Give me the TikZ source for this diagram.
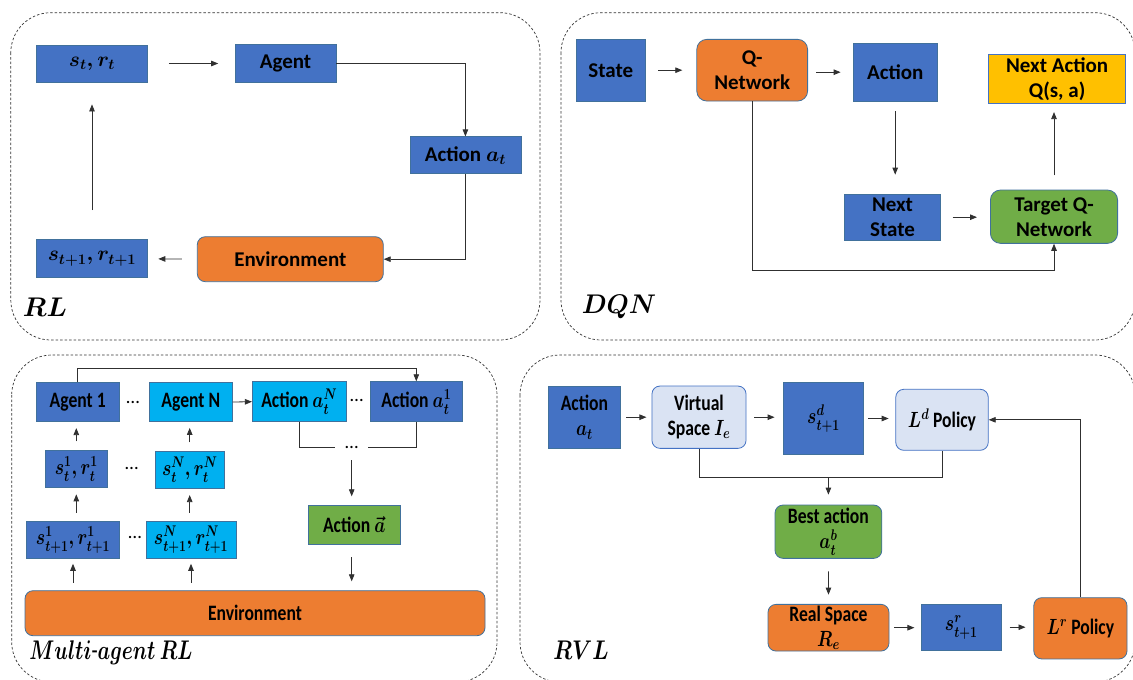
\documentclass[tikz,border=0pt]{standalone}
\usepackage{fix-cm}
\usepackage[no-math]{fontspec}
\setmainfont{Carlito}
\newfontfamily\cfont[FakeStretch=0.8]{Carlito}
\usepackage{graphicx}
\usetikzlibrary{arrows.meta,calc}
\definecolor{dblue}{HTML}{4472C4}
\definecolor{lblue}{HTML}{00B0F0}
\definecolor{orng}{HTML}{ED7D31}
\definecolor{grn}{HTML}{70AD47}
\definecolor{ylw}{HTML}{FFC000}
\definecolor{light}{HTML}{DAE3F3}
\definecolor{bord}{HTML}{41719C}
\definecolor{linec}{HTML}{303030}
\newcommand{\cz}[1]{\scalebox{0.8}[1]{#1}}
\newcommand{\bmath}[1]{{\boldmath$#1$}}
\tikzset{
  base/.style={draw=bord, line width=0.8pt, inner sep=0pt, align=center, text=black},
  topf/.style={font=\bfseries\fontsize{21}{25}\selectfont},
  botf/.style={font=\cfont\bfseries\fontsize{22}{25}\selectfont},
  db/.style={base, fill=dblue},
  lb/.style={base, fill=lblue},
  og/.style={base, fill=orng, rounded corners=8pt},
  gr/.style={base, fill=grn},
  grr/.style={gr, rounded corners=8pt},
  yl/.style={base, fill=ylw, draw=dblue},
  lt/.style={base, fill=light, draw=dblue, rounded corners=8pt},
  conn/.style={draw=linec, line width=0.8pt},
  arr/.style={conn, -{Triangle[length=7pt,width=5.5pt]}},
  panel/.style={draw=black!80, dash pattern=on 2.5pt off 2pt, line width=0.7pt, rounded corners=40pt},
  lab/.style={inner sep=0pt, font=\fontsize{27}{30}\selectfont},
  dots/.style={inner sep=0pt, font=\fontsize{19}{22}\selectfont},
  sz/.style 2 args={minimum width=#1pt, minimum height=#2pt},
}
\begin{document}
\begin{tikzpicture}[x=1pt,y=-1pt]
\useasboundingbox (0,0) rectangle (1133,680);
\fill[white] (0,0) rectangle (1133,680);

% ---------- panels
\draw[panel] (10.8,12.7) rectangle (540,340);
\draw[panel] (561,12.7) rectangle (1135,340);
\draw[panel] (11.7,355) rectangle (497,682);
\draw[panel] (520,355) rectangle (1135,682);

% ---------- RL
\begin{scope}[every node/.append style={topf}]
\node[db, sz={111}{37}] (st) at (92,63.5) {\bmath{s_t, r_t}};
\node[db, sz={101}{38}] (agent) at (285.5,63.5) {Agent};
\node[db, sz={111}{37}] (act) at (465.4,155.3) {Action \bmath{a_t}};
\node[og, sz={186}{45}] (env) at (290.3,259.2) {Environment};
\node[db, sz={111}{38}] (st1) at (92,258.8) {\bmath{s_{t+1}, r_{t+1}}};
\end{scope}
\node[lab] (rl) at (45,307) {\bmath{RL}};
\draw[arr, shorten <=21pt, shorten >=16.4pt] (st) -- (agent);
\draw[arr] (agent.east) -| (act.north);
\draw[arr] (act.south) |- (env.east);
\draw[arr, shorten <=15pt, shorten >=10.4pt] (env.west) -- (st1.east);
\draw[arr, shorten <=29.3pt, shorten >=22pt] (st1.north) -- (st.south);

% ---------- DQN
\begin{scope}[every node/.append style={topf}]
\node[db, sz={69.5}{61.7}] (state) at (610.8,70.2) {State};
\node[og, sz={110.8}{61.7}, rounded corners=10pt] (qnet) at (752.2,70.2) {Q-\\Network};
\node[db, sz={84.4}{57.7}] (action) at (895.2,72.2) {Action};
\node[yl, sz={136.8}{49}] (nexta) at (1057.1,78.8) {Next Action\\Q(s, a)};
\node[db, sz={95.5}{45.7}] (nexts) at (892.5,217.2) {Next\\State};
\node[grr, sz={127.2}{53.3}, rounded corners=10pt] (target) at (1054,216.7) {Target Q-\\Network};
\end{scope}
\node[lab] (dqn) at (619,307) {\scalebox{0.95}[1]{\bmath{DQN}}};
\draw[arr, shorten <=12.3pt, shorten >=14.1pt] (state) -- (qnet);
\draw[arr, shorten <=8.2pt, shorten >=12pt] (qnet.east |- action.west) -- (action.west);
\draw[arr, shorten <=10pt, shorten >=19.3pt] (action.south) -- (action.south |- nexts.north);
\draw[arr, shorten <=12pt, shorten >=13pt] (nexts.east) -- (nexts.east -| target.west);
\draw[arr, shorten <=14.3pt, shorten >=8.4pt] (target.north) -- (target.north |- nexta.south);
\draw[arr] (qnet.south) -- ++(0,169) -| (target.south);

% ---------- Multi-agent RL
\begin{scope}[every node/.append style={botf}]
\node[db, sz={83.3}{39}] (ag1) at (77.7,402.2) {Agent 1};
\node[lb, sz={83}{39}] (agN) at (190.8,402) {Agent N};
\node[lb, sz={93.7}{40}] (actN) at (299.2,401.7) {Action \cz{\bmath{a_t^N}}};
\node[db, sz={92.7}{40}] (act1) at (416.3,401.7) {Action \cz{\bmath{a_t^1}}};
\node[db, sz={62.7}{37.7}] (s1) at (76.3,468.8) {\cz{\bmath{s_t^1, r_t^1}}};
\node[lb, sz={69.3}{37.3}] (sN) at (189.7,469.7) {\cz{\bmath{s_t^N, r_t^N}}};
\node[db, sz={92.7}{37.3}] (s11) at (73,539.7) {\cz{\bmath{s_{t+1}^1, r_{t+1}^1}}};
\node[lb, sz={90}{37.3}] (s1N) at (191,539.7) {\cz{\bmath{s_{t+1}^N, r_{t+1}^N}}};
\node[gr, sz={91.7}{39}] (avec) at (354.2,524.5) {Action \cz{\bmath{\vec{a}}}};
\node[og, sz={460}{45}] (envm) at (255,613.2) {Environment};
\end{scope}
\node[dots] (m1) at (133,402) {…};
\node[dots] (m2) at (356.7,400) {…};
\node[dots] (m4) at (131.7,468) {…};
\node[dots] (m5) at (135,537) {…};
\node[dots, minimum width=33pt, minimum height=10pt] (m3) at (351.7,447.3) {…};
\node[lab] (marl) at (111,653) {\scalebox{0.74}[1]{\bmath{Multi\mbox{-}agent\ RL}}};
\draw[arr] (agN.east) -- (actN.west);
\draw[arr] (ag1.north) -- ++(0,-13.7) -| (act1.north);
\draw[conn] (actN.south) |- (m3.west);
\draw[conn] (m3.east) -| (act1.south);
\draw[arr, shorten <=12.7pt, shorten >=8.3pt] (m3.center) -- (m3.center |- avec.north);
\draw[arr, shorten <=12.7pt, shorten >=9pt] (m3.center |- avec.south) -- (m3.center |- envm.north);
\draw[arr, shorten <=8.3pt, shorten >=6pt] (s1.north) -- (s1.north |- ag1.south);
\draw[arr, shorten <=8.3pt, shorten >=6pt] (sN.north) -- (sN.north |- agN.south);
\draw[arr, shorten <=7.7pt, shorten >=6.3pt] (s1.south |- s11.north) -- (s1.south);
\draw[arr, shorten <=7.7pt, shorten >=6.3pt] (sN.south |- s1N.north) -- (sN.south);
\draw[arr, shorten <=7.4pt, shorten >=5pt] (s11.south |- envm.north) -- (s11.south);
\draw[arr, shorten <=7.4pt, shorten >=5pt] (s1N.south |- envm.north) -- (s1N.south);

% ---------- RVL
\begin{scope}[every node/.append style={botf}]
\node[db, sz={71.8}{62.3}] (ra) at (584.4,417.2) {Action\\\cz{\bmath{a_t}}};
\node[lt, sz={94.1}{62.3}] (vs) at (699,417.2) {Virtual\\Space \cz{\bmath{I_e}}};
\node[db, sz={79.4}{71.7}] (sd) at (823.5,418.5) {\cz{\bmath{s^d_{t+1}}}};
\node[lt, sz={92.5}{61}] (ld) at (942,419.8) {\cz{\bmath{L^d}} Policy};
\node[grr, sz={106.8}{53.3}] (ba) at (828.4,531.7) {Best action\\\cz{\bmath{a_t^b}}};
\node[og, sz={121}{46.7}] (re) at (828.5,627.7) {Real Space\\\cz{\bmath{R_e}}};
\node[db, sz={79.4}{45.7}] (sr) at (961.2,627.2) {\cz{\bmath{s^r_{t+1}}}};
\node[og, sz={93.2}{61.3}] (lr) at (1080.4,628.3) {\cz{\bmath{L^r}} Policy};
\end{scope}
\node[lab] (rvl) at (581,650) {\cz{\bmath{RVL}}};
\draw[arr, shorten <=5.6pt, shorten >=5.1pt] (ra) -- (vs);
\draw[arr, shorten <=7.6pt, shorten >=8.8pt] (vs.east) -- (vs.east -| sd.west);
\draw[arr, shorten <=4.8pt, shorten >=6.7pt] (sd.east) -- (sd.east -| ld.west);
\draw[arr] (lr.north) |- (ld.east);
\draw[conn] (vs.south) -- ++(0,28.4) coordinate (jl) -| (ld.south);
\draw[arr, shorten >=10pt] (jl -| ba.north) -- (ba.north);
\draw[arr, shorten <=12.7pt, shorten >=9.3pt] (ba.south) -- (re.north);
\draw[arr, shorten <=4.7pt, shorten >=6.7pt] (re.east) -- (re.east -| sr.west);
\draw[arr, shorten <=8.3pt, shorten >=7.9pt] (sr.east) -- (sr.east -| lr.west);
\end{tikzpicture}
\end{document}
